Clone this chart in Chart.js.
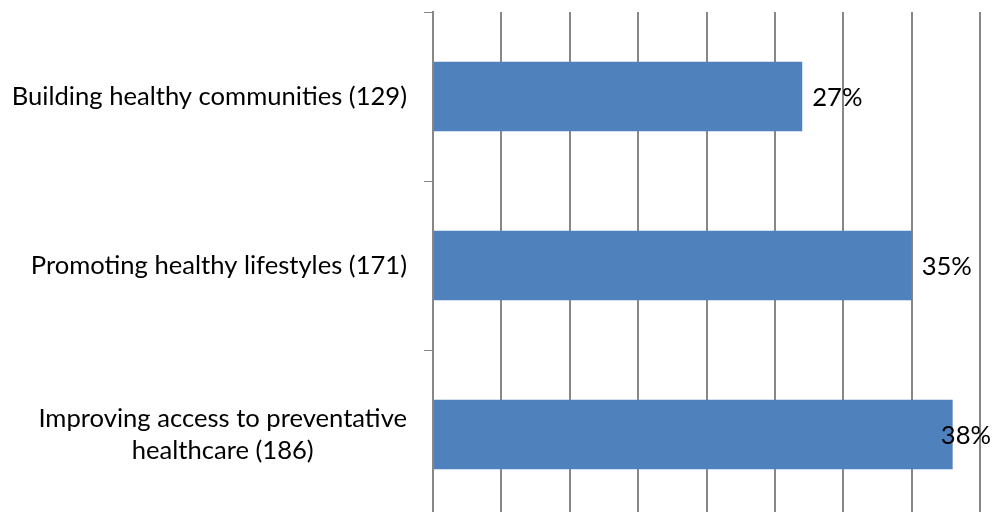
<!DOCTYPE html>
<html>
<head>
<meta charset="utf-8">
<script src="https://cdn.jsdelivr.net/npm/chart.js@4.4.1/dist/chart.umd.min.js"></script>
<style>
  html, body { margin: 0; padding: 0; background: #fff; overflow: hidden; }
  #wrap { width: 994px; height: 519px; }
</style>
</head>
<body>
<div id="wrap"><canvas id="priorityChart"></canvas></div>
<script>
// Categories (each line of a label is a separate entry)
var categories = [
    ['Building healthy communities (129)'],
    ['Promoting healthy lifestyles (171)'],
    ['Improving access to preventative', 'healthcare (186)']
];
// Share of responses, percent
var shares = [27, 35, 38];

var FONT = '25.6px Lato';

// Category labels: block right-aligned, lines centered inside the block
var categoryLabels = {
    id: 'categoryLabels',
    afterDraw: function (chart) {
        var ctx = chart.ctx;
        var y = chart.scales.y;
        ctx.save();
        ctx.font = FONT;
        ctx.fillStyle = '#000';
        ctx.textAlign = 'center';
        ctx.textBaseline = 'middle';
        var rightEdge = 407;
        var lineH = 32;
        categories.forEach(function (lines, i) {
            var w = 0;
            lines.forEach(function (l) { w = Math.max(w, ctx.measureText(l).width); });
            var cx = rightEdge - w / 2;
            var cy = y.getPixelForValue(i) - (lines.length - 1) * lineH / 2;
            lines.forEach(function (l, j) { ctx.fillText(l, cx, cy + j * lineH); });
        });
        ctx.restore();
    }
};

// Percent labels after each bar, kept inside the canvas
var valueLabels = {
    id: 'valueLabels',
    afterDatasetsDraw: function (chart) {
        var ctx = chart.ctx;
        var meta = chart.getDatasetMeta(0);
        ctx.save();
        ctx.font = FONT;
        ctx.fillStyle = '#000';
        ctx.textAlign = 'left';
        ctx.textBaseline = 'middle';
        meta.data.forEach(function (bar, i) {
            var txt = shares[i] + '%';
            var w = ctx.measureText(txt).width;
            var x = Math.min(bar.x + 10, 991 - w);
            ctx.fillText(txt, x, bar.y + 1);
        });
        ctx.restore();
    }
};

var priorityChart = new Chart(document.getElementById('priorityChart'), {
    type: 'bar',
    data: {
        labels: categories.map(function (c) { return c.join(' '); }),
        datasets: [{
            data: shares,
            backgroundColor: '#4f81bd',
            categoryPercentage: 1,
            barPercentage: 0.41
        }]
    },
    options: {
        indexAxis: 'y',
        responsive: true,
        maintainAspectRatio: false,
        animation: false,
        layout: { padding: { top: 12, right: 14, left: 0, bottom: 0 } },
        plugins: { legend: { display: false }, tooltip: { enabled: false } },
        scales: {
            x: {
                min: 0,
                max: 40,
                ticks: { stepSize: 5, display: false },
                grid: { color: '#878787', lineWidth: 2, drawTicks: false },
                border: { display: false },
                afterFit: function (s) { s.height = 0; }
            },
            y: {
                ticks: { display: false },
                grid: { drawOnChartArea: false, color: '#878787', lineWidth: 1, tickLength: 9 },
                border: { display: true, color: '#878787', width: 2 },
                afterFit: function (s) { s.width = 433; }
            }
        }
    },
    plugins: [categoryLabels, valueLabels]
});
</script>
</body>
</html>
